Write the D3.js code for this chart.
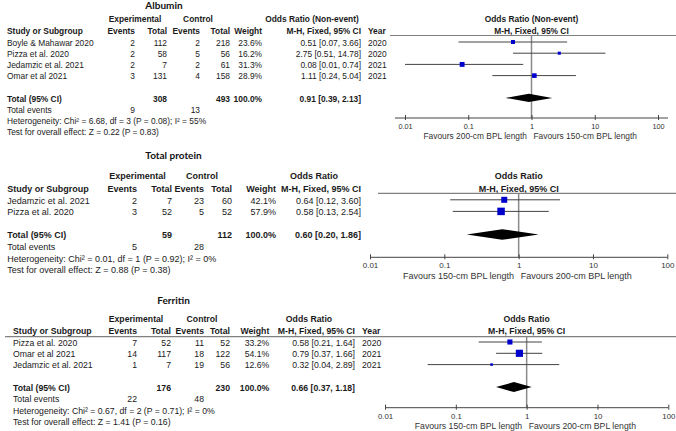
<!DOCTYPE html>
<html><head><meta charset="utf-8">
<script src="https://cdn.jsdelivr.net/npm/d3@7"></script>
<style>body{margin:0;background:#fff} svg{display:block}</style>
</head><body>
<svg id="chart" width="676" height="431"></svg>
<script>
// ---------- DATA ----------
const tickValues = [0.01, 0.1, 1, 10, 100];
const tickLabels = ["0.01", "0.1", "1", "10", "100"];

// Albumin
const albuminStudies = ["Boyle & Mahawar 2020", "Pizza et al. 2020", "Jedamzic et al. 2021", "Omar et al 2021"];
const albuminExpEvents = [2, 2, 2, 3];
const albuminExpTotal = [112, 58, 7, 131];
const albuminCtrlEvents = [2, 5, 2, 4];
const albuminCtrlTotal = [218, 56, 61, 158];
const albuminWeight = [23.6, 16.2, 31.3, 28.9];
const albuminOR = [0.51, 2.75, 0.08, 1.11];
const albuminLower = [0.07, 0.51, 0.01, 0.24];
const albuminUpper = [3.66, 14.78, 0.74, 5.04];
const albuminYear = [2020, 2020, 2021, 2021];
const albuminPooled = [0.91, 0.39, 2.13];
const albuminTotals = [308, 493];
const albuminTotalEvents = [9, 13];
const albuminHet = "Heterogeneity: Chi\u00B2 = 6.68, df = 3 (P = 0.08); I\u00B2 = 55%";
const albuminTest = "Test for overall effect: Z = 0.22 (P = 0.83)";
const albuminFavours = ["Favours 200-cm BPL length", "Favours 150-cm BPL length"];

// Total protein
const proteinStudies = ["Jedamzic et al. 2021", "Pizza et al. 2020"];
const proteinExpEvents = [2, 3];
const proteinExpTotal = [7, 52];
const proteinCtrlEvents = [23, 5];
const proteinCtrlTotal = [60, 52];
const proteinWeight = [42.1, 57.9];
const proteinOR = [0.64, 0.58];
const proteinLower = [0.12, 0.13];
const proteinUpper = [3.60, 2.54];
const proteinPooled = [0.60, 0.20, 1.86];
const proteinTotals = [59, 112];
const proteinTotalEvents = [5, 28];
const proteinHet = "Heterogeneity: Chi\u00B2 = 0.01, df = 1 (P = 0.92); I\u00B2 = 0%";
const proteinTest = "Test for overall effect: Z = 0.88 (P = 0.38)";
const proteinFavours = ["Favours 150-cm BPL length", "Favours 200-cm BPL length"];

// Ferritin
const ferritinStudies = ["Pizza et al. 2020", "Omar et al 2021", "Jedamzic et al. 2021"];
const ferritinExpEvents = [7, 14, 1];
const ferritinExpTotal = [52, 117, 7];
const ferritinCtrlEvents = [11, 18, 19];
const ferritinCtrlTotal = [52, 122, 56];
const ferritinWeight = [33.2, 54.1, 12.6];
const ferritinOR = [0.58, 0.79, 0.32];
const ferritinLower = [0.21, 0.37, 0.04];
const ferritinUpper = [1.64, 1.66, 2.89];
const ferritinYear = [2020, 2021, 2021];
const ferritinPooled = [0.66, 0.37, 1.18];
const ferritinTotals = [176, 230];
const ferritinTotalEvents = [22, 48];
const ferritinHet = "Heterogeneity: Chi\u00B2 = 0.67, df = 2 (P = 0.71); I\u00B2 = 0%";
const ferritinTest = "Test for overall effect: Z = 1.41 (P = 0.16)";
const ferritinFavours = ["Favours 150-cm BPL length", "Favours 200-cm BPL length"];

// ---------- DRAWING ----------
const svg = d3.select("#chart");
const FONT = "'Liberation Sans', Arial, sans-serif";
const TITLE_FONT = "Lato, 'Open Sans', sans-serif";
const f2 = d3.format(".2f");
const sizeScale = d3.scalePow().exponent(0.7).domain([0, 100]).range([0, 11]);

function drawPanel(d, L) {
  const g = svg.append("g").attr("font-family", FONT).attr("font-size", L.fs).attr("fill", "#1a1a1a");
  const txt = (x, y, s, anchor, bold) => g.append("text")
      .attr("x", x).attr("y", y).attr("dy", "0.35em")
      .attr("text-anchor", anchor || "start")
      .attr("font-weight", bold ? "bold" : null)
      .text(s);

  // title
  g.append("text").attr("x", L.titleX).attr("y", L.titleY).attr("dy", "0.35em")
    .attr("text-anchor", "middle").attr("font-family", TITLE_FONT)
    .attr("font-weight", "bold").attr("font-size", 10).attr("fill", "#111").text(d.title);

  const x = d3.scaleLog().domain([0.01, 100]).range(L.axisRange);
  const x1 = x(1);

  // header rows
  txt(L.expHdr, L.h1, "Experimental", "middle", true);
  txt(L.ctrlHdr, L.h1, "Control", "middle", true);
  txt(L.orHdr, L.h1, d.orLabel, "middle", true);
  txt(L.study, L.h2, "Study or Subgroup", "start", true);
  txt(L.c.expEv, L.h2, "Events", "end", true);
  txt(L.c.expTot, L.h2, "Total", "end", true);
  txt(L.c.ctrlEv, L.h2, "Events", "end", true);
  txt(L.c.ctrlTot, L.h2, "Total", "end", true);
  txt(L.c.weight, L.h2, "Weight", "end", true);
  txt(L.c.ci, L.h2, "M-H, Fixed, 95% CI", "end", true);
  if (d.years) txt(L.c.year, L.h2, "Year", "start", true);
  txt(x1, L.h1, d.orLabel, "middle", true);
  txt(x1, L.h2, "M-H, Fixed, 95% CI", "middle", true);

  g.append("line").attr("x1", L.lineX0).attr("x2", 676).attr("y1", L.lineY).attr("y2", L.lineY)
    .attr("stroke", "#808080").attr("stroke-width", 1.2);

  const n = d.studies.length;
  const rowY = i => L.row0 + i * L.step;

  d.studies.forEach((s, i) => {
    const y = rowY(i);
    txt(L.study, y, s);
    txt(L.c.expEv, y, d.expEvents[i], "end");
    txt(L.c.expTot, y, d.expTotal[i], "end");
    txt(L.c.ctrlEv, y, d.ctrlEvents[i], "end");
    txt(L.c.ctrlTot, y, d.ctrlTotal[i], "end");
    txt(L.c.weight, y, d.weight[i].toFixed(1) + "%", "end");
    txt(L.c.ci, y, `${f2(d.or[i])} [${f2(d.lower[i])}, ${f2(d.upper[i])}]`, "end");
    if (d.years) txt(L.c.year, y, d.years[i], "start");
  });
  const yT = rowY(n + 1);
  txt(L.study, yT, "Total (95% CI)", "start", true);
  txt(L.c.expTot, yT, d.totals[0], "end", true);
  txt(L.c.ctrlTot, yT, d.totals[1], "end", true);
  txt(L.c.weight, yT, "100.0%", "end", true);
  txt(L.c.ci, yT, `${f2(d.pooled[0])} [${f2(d.pooled[1])}, ${f2(d.pooled[2])}]`, "end", true);
  txt(L.study, rowY(n + 2), "Total events");
  txt(L.c.expEv, rowY(n + 2), d.totalEvents[0], "end");
  txt(L.c.ctrlEv, rowY(n + 2), d.totalEvents[1], "end");
  txt(L.study, rowY(n + 3), d.het);
  txt(L.study, rowY(n + 4), d.test);

  // plot: null line
  g.append("line").attr("x1", x1).attr("x2", x1).attr("y1", L.lineY).attr("y2", L.axisY)
    .attr("stroke", "#8a8a8a").attr("stroke-width", 1.5);

  // CIs and squares
  d.studies.forEach((s, i) => {
    const y = rowY(i) - 0.7;
    g.append("line").attr("x1", x(d.lower[i])).attr("x2", x(d.upper[i]))
      .attr("y1", y).attr("y2", y).attr("stroke", "#444").attr("stroke-width", 1);
    const sz = sizeScale(d.weight[i]);
    g.append("rect").attr("x", x(d.or[i]) - sz / 2).attr("y", y - sz / 2)
      .attr("width", sz).attr("height", sz).attr("fill", "#0000cd");
  });

  // diamond
  const yd = yT - 0.8;
  g.append("path").attr("d", d3.line()([
    [x(d.pooled[1]), yd], [x(d.pooled[0]), yd - L.dh],
    [x(d.pooled[2]), yd], [x(d.pooled[0]), yd + L.dh]
  ]) + "Z").attr("fill", "#000");

  // axis
  const ax = g.append("g").attr("transform", `translate(0,${L.axisY})`)
    .call(d3.axisBottom(x).tickValues(tickValues).tickFormat((v, i) => tickLabels[i]).tickSize(3).tickPadding(3));
  ax.select(".domain").remove();
  ax.selectAll(".tick line").attr("y1", -3).attr("y2", 2).attr("stroke", "#444");
  ax.selectAll(".tick text").attr("y", L.tickLabY - L.axisY).attr("dy", "0.35em")
    .attr("font-family", FONT).attr("font-size", L.tfs).attr("fill", "#333");
  g.append("line").attr("x1", L.axisLine[0]).attr("x2", L.axisLine[1])
    .attr("y1", L.axisY).attr("y2", L.axisY).attr("stroke", "#444").attr("stroke-width", 1);

  g.append("text").attr("x", x1 - 4.5).attr("y", L.favY).attr("dy", "0.35em")
    .attr("text-anchor", "end").attr("fill", "#333").text(d.favours[0]);
  g.append("text").attr("x", x1 + 2).attr("y", L.favY).attr("dy", "0.35em")
    .attr("text-anchor", "start").attr("fill", "#333").text(d.favours[1]);
}

drawPanel({
  title: "Albumin", orLabel: "Odds Ratio (Non-event)", studies: albuminStudies,
  expEvents: albuminExpEvents, expTotal: albuminExpTotal, ctrlEvents: albuminCtrlEvents,
  ctrlTotal: albuminCtrlTotal, weight: albuminWeight, or: albuminOR, lower: albuminLower,
  upper: albuminUpper, years: albuminYear, pooled: albuminPooled, totals: albuminTotals,
  totalEvents: albuminTotalEvents, het: albuminHet, test: albuminTest, favours: albuminFavours
}, {
  fs: 8.4, tfs: 7.3, titleX: 164, titleY: 5.5, h1: 19.5, h2: 30.7, lineY: 35.5, lineX0: 390,
  row0: 42.7, step: 11.2, study: 7,
  expHdr: 135, ctrlHdr: 198, orHdr: 312,
  c: { expEv: 135, expTot: 167, ctrlEv: 200, ctrlTot: 230, weight: 262, ci: 361, year: 368 },
  axisRange: [405, 658], axisY: 118, axisLine: [395, 668], tickLabY: 126, favY: 136, dh: 4.2
});

drawPanel({
  title: "Total protein", orLabel: "Odds Ratio", studies: proteinStudies,
  expEvents: proteinExpEvents, expTotal: proteinExpTotal, ctrlEvents: proteinCtrlEvents,
  ctrlTotal: proteinCtrlTotal, weight: proteinWeight, or: proteinOR, lower: proteinLower,
  upper: proteinUpper, years: null, pooled: proteinPooled, totals: proteinTotals,
  totalEvents: proteinTotalEvents, het: proteinHet, test: proteinTest, favours: proteinFavours
}, {
  fs: 9, tfs: 8, titleX: 173.5, titleY: 155, h1: 176, h2: 188.5, lineY: 193.3, lineX0: 378,
  row0: 200.5, step: 11.6, study: 7.3,
  expHdr: 137.5, ctrlHdr: 202, orHdr: 314,
  c: { expEv: 137, expTot: 172, ctrlEv: 204, ctrlTot: 232, weight: 276, ci: 361 },
  axisRange: [370, 667.3], axisY: 257.3, axisLine: [370, 667.3], tickLabY: 265.5, favY: 276, dh: 5.3
});

drawPanel({
  title: "Ferritin", orLabel: "Odds Ratio", studies: ferritinStudies,
  expEvents: ferritinExpEvents, expTotal: ferritinExpTotal, ctrlEvents: ferritinCtrlEvents,
  ctrlTotal: ferritinCtrlTotal, weight: ferritinWeight, or: ferritinOR, lower: ferritinLower,
  upper: ferritinUpper, years: ferritinYear, pooled: ferritinPooled, totals: ferritinTotals,
  totalEvents: ferritinTotalEvents, het: ferritinHet, test: ferritinTest, favours: ferritinFavours
}, {
  fs: 8.7, tfs: 7.8, titleX: 173.5, titleY: 300, h1: 319.3, h2: 330.7, lineY: 336.7, lineX0: 5,
  row0: 342.7, step: 11.3, study: 13,
  expHdr: 136, ctrlHdr: 202, orHdr: 309,
  c: { expEv: 137, expTot: 171, ctrlEv: 204, ctrlTot: 230, weight: 269.3, ci: 355, year: 362 },
  axisRange: [385, 668.3], axisY: 407.7, axisLine: [385, 668.3], tickLabY: 415.8, favY: 426, dh: 5
});
</script>
</body></html>
